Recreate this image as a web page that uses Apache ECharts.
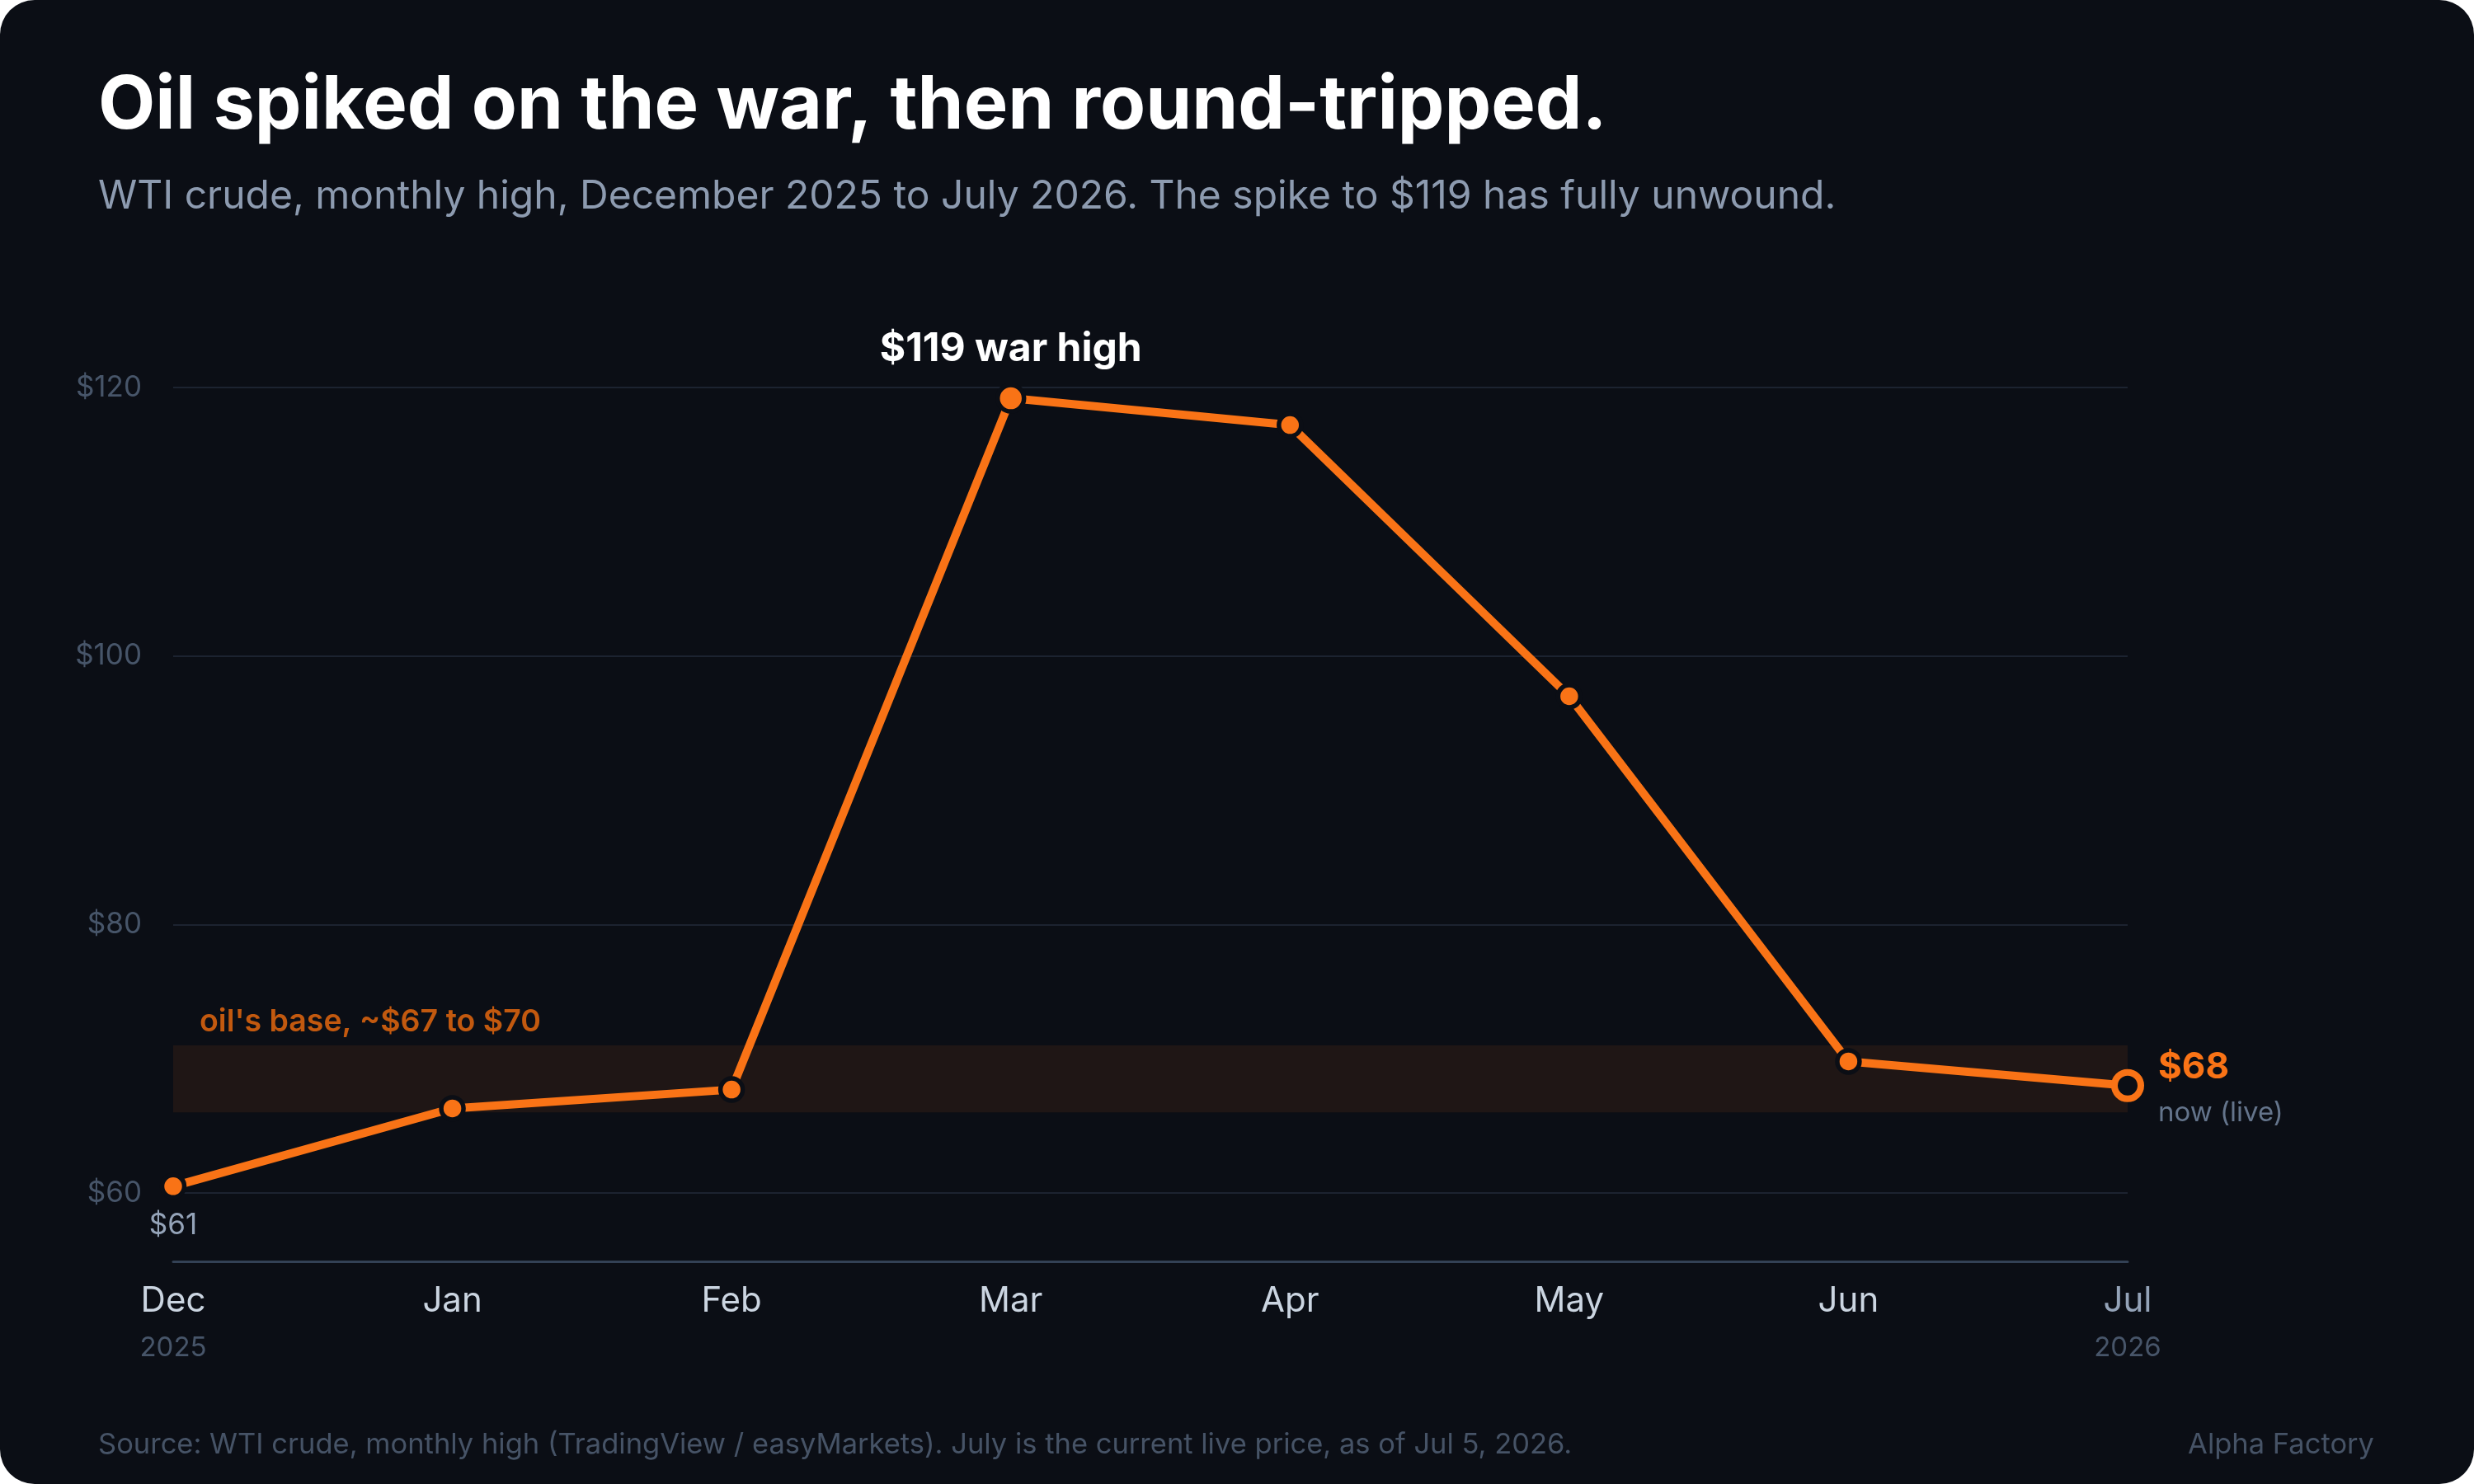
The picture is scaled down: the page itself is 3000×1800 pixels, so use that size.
<!DOCTYPE html>
<html>
<head>
<meta charset="utf-8">
<script src="https://cdn.jsdelivr.net/npm/echarts@6/dist/echarts.min.js"></script>
<style>
  html, body { margin: 0; padding: 0; background: #ffffff; }
  #card { position: absolute; left: 0; top: 0; width: 3000px; height: 1800px; background: #0b0e15; border-radius: 42px; overflow: hidden; }
  #chart { width: 3000px; height: 1800px; }
</style>
</head>
<body>
<div id="card"><div id="chart"></div></div>
<script>
// ---- data ----
const months = ['Dec', 'Jan', 'Feb', 'Mar', 'Apr', 'May', 'Jun', 'Jul'];
const years = ['2025', '', '', '', '', '', '', '2026'];
const wtiHigh = [60.5, 66.3, 67.7, 119.2, 117.2, 97.0, 69.8, 68.0];
const baseBand = [66, 71];
const yMin = 60, yMax = 120, yStep = 20;

const titleText = 'Oil spiked on the war, then round-tripped.';
const subtitleText = 'WTI crude, monthly high, December 2025 to July 2026. The spike to $119 has fully unwound.';
const sourceText = 'Source: WTI crude, monthly high (TradingView / easyMarkets). July is the current live price, as of Jul 5, 2026.';
const brandText = 'Alpha Factory';
const bandText = "oil's base, ~$67 to $70";
const peakNote = 'war high';
const liveNote = 'now (live)';

// ---- styling ----
const BG = '#0b0e15';
const ORANGE = '#f97316';
const FONT = 'Inter, "Noto Sans", sans-serif';

const last = wtiHigh.length - 1;
let peakIdx = 0;
wtiHigh.forEach((v, i) => { if (v > wtiHigh[peakIdx]) peakIdx = i; });
const fmt = v => '$' + Math.round(v);

const seriesData = wtiHigh.map((v, i) => {
  const item = { value: v };
  if (i === 0) {
    item.label = { show: true, position: 'bottom', distance: 14, formatter: fmt(v),
      color: '#94a3b8', fontSize: 35, fontFamily: FONT };
  }
  if (i === peakIdx) {
    item.symbolSize = 32;
    item.label = { show: true, position: 'top', distance: 17, formatter: fmt(v) + ' ' + peakNote,
      color: '#ffffff', fontSize: 48, fontWeight: 700, fontFamily: FONT };
  }
  if (i === last) {
    item.symbolSize = 32;
    item.itemStyle = { color: BG, borderColor: ORANGE, borderWidth: 8 };
    item.label = { show: true, position: 'right', distance: 17, offset: [0, 6],
      formatter: '{a|' + fmt(v) + '}\n{b|' + liveNote + '}',
      rich: {
        a: { color: ORANGE, fontSize: 44, fontWeight: 700, fontFamily: FONT, lineHeight: 55 },
        b: { color: '#64748b', fontSize: 33, fontFamily: FONT, lineHeight: 55 }
      } };
  }
  return item;
});

const chart = echarts.init(document.getElementById('chart'), null, { renderer: 'canvas' });
chart.setOption({
  backgroundColor: 'transparent',
  animation: false,
  title: [
    { text: titleText, left: 119, top: 84, padding: 0,
      textStyle: { color: '#ffffff', fontSize: 90, fontWeight: 700, fontFamily: FONT, lineHeight: 90 } },
    { text: subtitleText, left: 119, top: 215, padding: 0,
      textStyle: { color: '#8d9bb0', fontSize: 48, fontWeight: 400, fontFamily: FONT, lineHeight: 48 } },
    { text: sourceText, left: 119, top: 1735, padding: 0,
      textStyle: { color: '#465366', fontSize: 34.5, fontWeight: 400, fontFamily: FONT, lineHeight: 34.5 } },
    { text: brandText, right: 121, top: 1735, padding: 0,
      textStyle: { color: '#465366', fontSize: 34.5, fontWeight: 400, fontFamily: FONT, lineHeight: 34.5 } }
  ],
  grid: { left: 210, right: 420, top: 470, bottom: 353, containLabel: false },
  xAxis: {
    type: 'category',
    data: months,
    boundaryGap: false,
    offset: 83,
    axisLine: { show: true, lineStyle: { color: '#334155', width: 3 } },
    axisTick: { show: false },
    splitLine: { show: false },
    axisLabel: {
      interval: 0,
      margin: 20,
      formatter: (val, idx) => {
        const m = idx === last ? '{j|' + val + '}' : '{m|' + val + '}';
        return years[idx] ? m + '\n{y|' + years[idx] + '}' : m;
      },
      rich: {
        m: { color: '#cbd5e1', fontSize: 42, fontFamily: FONT, lineHeight: 57 },
        j: { color: '#94a3b8', fontSize: 42, fontFamily: FONT, lineHeight: 57 },
        y: { color: '#475569', fontSize: 33, fontFamily: FONT, lineHeight: 57 }
      }
    }
  },
  yAxis: {
    type: 'value',
    min: yMin, max: yMax, interval: yStep,
    axisLine: { show: false },
    axisTick: { show: false },
    axisLabel: { margin: 38, color: '#475569', fontSize: 35, fontFamily: FONT, formatter: v => '$' + v },
    splitLine: { show: true, lineStyle: { color: '#1c2330', width: 2 } }
  },
  series: [{
    type: 'line',
    data: seriesData,
    symbol: 'circle',
    symbolSize: 27,
    showSymbol: true,
    clip: false,
    lineStyle: { color: ORANGE, width: 10 },
    itemStyle: { color: ORANGE, borderColor: BG, borderWidth: 5.5 },
    emphasis: { disabled: true },
    z: 3,
    markArea: {
      silent: true,
      itemStyle: { color: '#1f1615' },
      label: { show: true, position: [32, -47], color: '#c2590f', fontSize: 37.5, fontWeight: 600, fontFamily: FONT },
      data: [[{ yAxis: baseBand[0], name: bandText }, { yAxis: baseBand[1] }]]
    }
  }]
});
</script>
</body>
</html>
